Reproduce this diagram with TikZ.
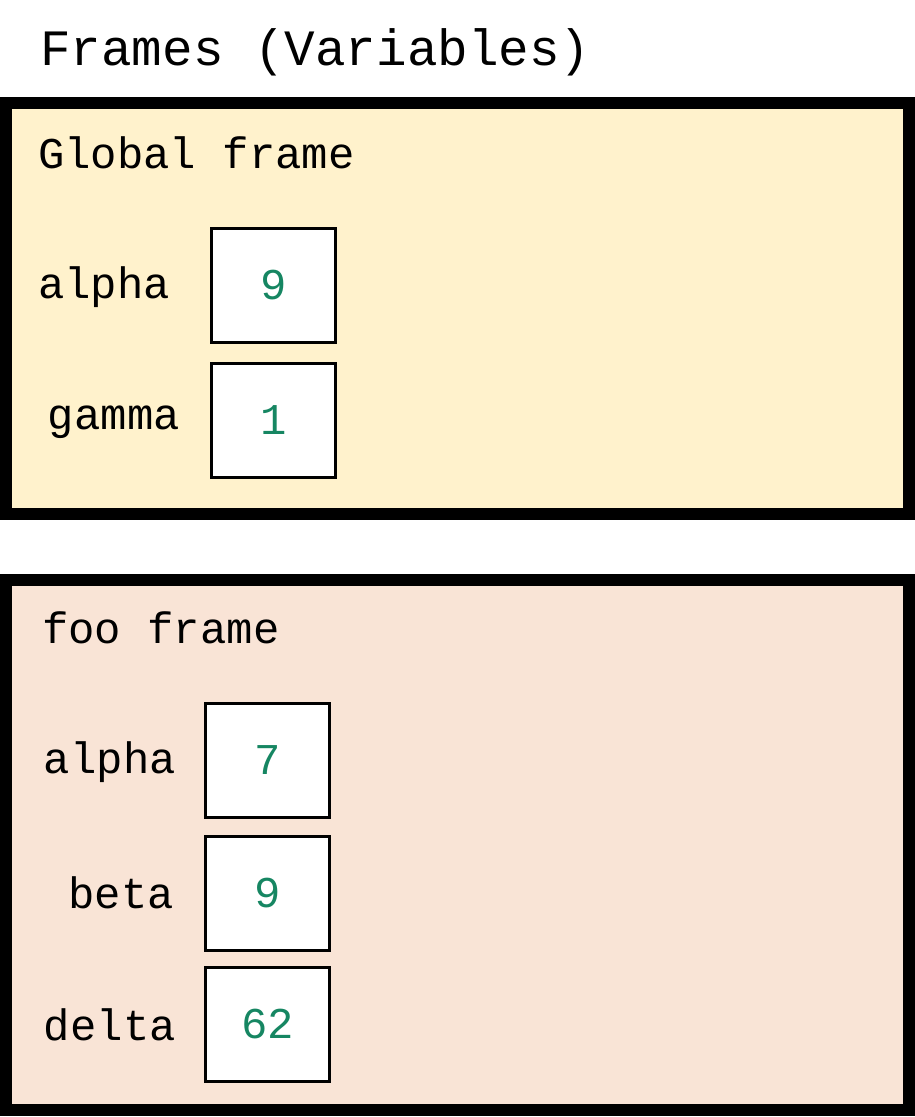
\documentclass[tikz,border=0pt]{standalone}
\usepackage{fontspec}
\setmonofont{Liberation Mono}
\usetikzlibrary{positioning}
\definecolor{globalbg}{RGB}{255,242,204}
\definecolor{foobg}{RGB}{249,228,214}
\definecolor{valgreen}{RGB}{22,134,98}
\tikzset{
  framebox/.style={draw,line width=12*0.02cm},
  valbox/.style={draw,fill=white,line width=3*0.02cm,minimum width=2.5cm,minimum height=2.28cm,inner sep=0pt,font=\ttfamily\fontsize{25}{25}\selectfont,text=valgreen},
  varname/.style={anchor=east,font=\ttfamily\fontsize{25}{25}\selectfont},
  title/.style={anchor=west,font=\ttfamily\fontsize{25}{25}\selectfont}
}
\begin{document}
\begin{tikzpicture}[x=0.02cm,y=-0.02cm]
\useasboundingbox[fill=white] (0,0) rectangle (915,1117);
\node[anchor=west,font=\ttfamily\fontsize{29}{29}\selectfont] (heading) at (34,52) {Frames (Variables)};

% global frame
\draw[framebox,fill=globalbg] (6,103) rectangle (909,514);
\node[title] (gtitle) at (32,153) {Global frame};
\node[valbox] (galpha) at (273.5,285.5) {9};
\node[valbox] (ggamma) at (273.5,420.5) {1};
\node[varname] (galphaname) at (176,287) {alpha};
\node[varname] (ggammaname) at (186,422) {gamma};

% foo frame
\draw[framebox,fill=foobg] (6,580) rectangle (909,1110);
\node[title] (ftitle) at (36,628) {foo frame};
\node[valbox] (falpha) at (267.5,760) {7};
\node[valbox] (fbeta) at (267.5,893) {9};
\node[valbox] (fdelta) at (267.5,1024) {62};
\node[varname] (falphaname) at (182,762) {alpha};
\node[varname] (fbetaname) at (180,893) {beta};
\node[varname] (fdeltaname) at (182,1025) {delta};
\end{tikzpicture}
\end{document}
